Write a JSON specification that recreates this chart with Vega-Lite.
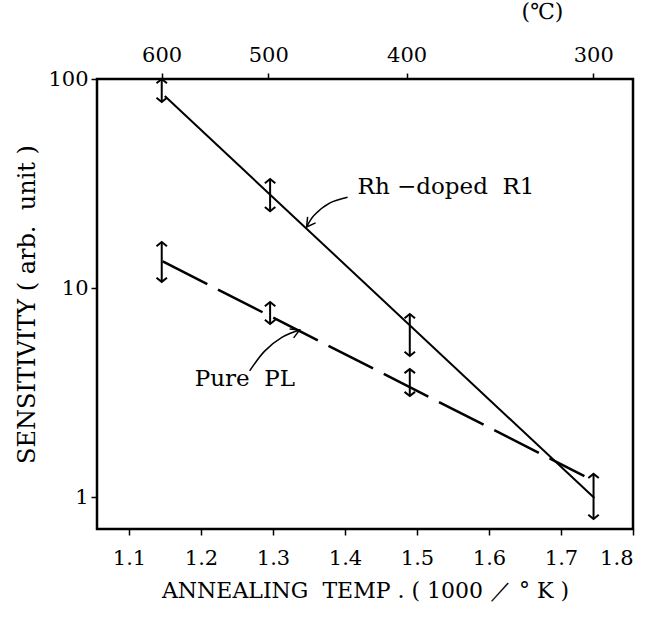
{
  "$schema": "https://vega.github.io/schema/vega-lite/v6.json",
  "width": 536,
  "height": 450,
  "autosize": {"type": "none"},
  "padding": {"left": 97, "top": 79, "right": 19, "bottom": 89},
  "background": "white",
  "config": {
    "view": {"stroke": "black", "strokeWidth": 2.5},
    "font": "DejaVu Serif",
    "axis": {
      "domain": false, "grid": false, "tickColor": "black", "labelColor": "black", "titleColor": "black",
      "labelFont": "DejaVu Serif", "titleFont": "DejaVu Serif", "labelFontSize": 21, "titleFontSize": 22,
      "titleFontWeight": "normal", "tickSize": 6, "tickWidth": 1.5
    }
  },
  "datasets": {
    "lines": [
      {"s": "Rh", "x": 1.1497, "y": 82.9},
      {"s": "Rh", "x": 1.7464, "y": 0.989},
      {"s": "Pure", "x": 1.1469, "y": 13.4},
      {"s": "Pure", "x": 1.7325, "y": 1.26}
    ],
    "topticks": [{"x": 1.1453, "y": 10}, {"x": 1.2934, "y": 10}, {"x": 1.4856, "y": 10}, {"x": 1.7448, "y": 10}],
    "bars": [
      {"s": "Rh", "x": 1.1455, "lo": 77.6, "hi": 100},
      {"s": "Rh", "x": 1.296, "lo": 23.3, "hi": 33.2},
      {"s": "Rh", "x": 1.49, "lo": 4.73, "hi": 7.51},
      {"s": "Rh", "x": 1.7452, "lo": 0.785, "hi": 1.29},
      {"s": "Pure", "x": 1.1455, "lo": 10.7, "hi": 16.6},
      {"s": "Pure", "x": 1.296, "lo": 6.73, "hi": 8.57},
      {"s": "Pure", "x": 1.49, "lo": 3.04, "hi": 4.1}
    ],
    "curves": [
      {"a": "rh", "o": 1, "x": 1.4036, "y": 27.2},
      {"a": "rh", "o": 2, "x": 1.3786, "y": 25.5},
      {"a": "rh", "o": 3, "x": 1.3578, "y": 22.4},
      {"a": "rh", "o": 4, "x": 1.3467, "y": 19.6},
      {"a": "pure", "o": 1, "x": 1.2676, "y": 4.01},
      {"a": "pure", "o": 2, "x": 1.2884, "y": 4.99},
      {"a": "pure", "o": 3, "x": 1.3134, "y": 5.83},
      {"a": "pure", "o": 4, "x": 1.337, "y": 6.3}
    ],
    "wings": [
      {"a": "rh", "o": 1, "x": 1.3592, "y": 20.5},
      {"a": "rh", "o": 2, "x": 1.3467, "y": 19.6},
      {"a": "rh", "o": 3, "x": 1.3481, "y": 21.9},
      {"a": "pure", "o": 1, "x": 1.3231, "y": 6.37},
      {"a": "pure", "o": 2, "x": 1.337, "y": 6.3},
      {"a": "pure", "o": 3, "x": 1.3287, "y": 5.77}
    ],
    "labels": [
      {"t": "Rh\u00a0−doped\u00a0\u00a0R1", "x": 1.4175, "y": 30.4},
      {"t": "Pure\u00a0\u00a0PL", "x": 1.1913, "y": 3.67}
    ]
  },
  "layer": [
    {
      "data": {"name": "lines"},
      "transform": [{"filter": "datum.s === 'Rh'"}],
      "mark": {"type": "line", "stroke": "black", "strokeWidth": 2},
      "encoding": {
        "x": {"field": "x", "type": "quantitative",
          "scale": {"domain": [1.0556, 1.8], "nice": false, "zero": false},
          "axis": {"orient": "bottom", "values": [1.1, 1.2, 1.3, 1.4, 1.5, 1.6, 1.7, 1.8], "format": ".1f",
            "labelPadding": 12, "title": "ANNEALING\u00a0\u00a0TEMP\u00a0.\u00a0(\u00a01000\u00a0／\u00a0°\u00a0K\u00a0)", "titlePadding": 12}},
        "y": {"field": "y", "type": "quantitative",
          "scale": {"type": "log", "domain": [0.703, 100], "nice": false},
          "axis": {"orient": "left", "values": [1, 10, 100], "format": "~g", "labelPadding": 3,
            "title": "SENSITIVITY\u00a0(\u00a0arb.\u00a0\u00a0unit\u00a0)", "titleFontSize": 24, "titlePadding": 8}}
      }
    },
    {
      "data": {"name": "topticks"},
      "mark": {"type": "point", "opacity": 0},
      "encoding": {
        "x": {"field": "x", "type": "quantitative",
          "scale": {"domain": [1.0556, 1.8], "nice": false, "zero": false},
          "axis": {"orient": "top", "values": [1.1453, 1.2934, 1.4856, 1.7448],
            "labelExpr": "datum.value < 1.2 ? '600' : datum.value < 1.4 ? '500' : datum.value < 1.6 ? '400' : '300'",
            "labelPadding": 8, "title": "(℃)", "titleX": 445, "titleY": -56, "titleAlign": "center"}},
        "y": {"field": "y", "type": "quantitative", "scale": {"type": "log", "domain": [0.703, 100], "nice": false}, "axis": null}
      }
    },
    {
      "data": {"name": "lines"},
      "transform": [{"filter": "datum.s === 'Pure'"}],
      "mark": {"type": "line", "stroke": "black", "strokeWidth": 2.5, "strokeDash": [50, 12]},
      "encoding": {
        "x": {"field": "x", "type": "quantitative", "scale": {"domain": [1.0556, 1.8], "nice": false, "zero": false}, "axis": null},
        "y": {"field": "y", "type": "quantitative", "scale": {"type": "log", "domain": [0.703, 100], "nice": false}, "axis": null}
      }
    },
    {
      "data": {"name": "bars"},
      "mark": {"type": "rule", "stroke": "black", "strokeWidth": 2},
      "encoding": {
        "x": {"field": "x", "type": "quantitative", "scale": {"domain": [1.0556, 1.8], "nice": false, "zero": false}, "axis": null},
        "y": {"field": "lo", "type": "quantitative", "scale": {"type": "log", "domain": [0.703, 100], "nice": false}, "axis": null},
        "y2": {"field": "hi"}
      }
    },
    {
      "data": {"name": "bars"},
      "transform": [{"fold": ["lo", "hi"], "as": ["end", "v"]}],
      "mark": {"type": "point", "filled": false, "stroke": "black", "strokeWidth": 2, "size": 110, "opacity": 1},
      "encoding": {
        "x": {"field": "x", "type": "quantitative", "scale": {"domain": [1.0556, 1.8], "nice": false, "zero": false}, "axis": null},
        "y": {"field": "v", "type": "quantitative", "scale": {"type": "log", "domain": [0.703, 100], "nice": false}, "axis": null},
        "shape": {"field": "end", "type": "nominal", "legend": null,
          "scale": {"domain": ["hi", "lo"], "range": ["M-1,0.8L0,0L1,0.8", "M-1,-0.8L0,0L1,-0.8"]}}
      }
    },
    {
      "data": {"name": "curves"},
      "mark": {"type": "line", "stroke": "black", "strokeWidth": 1.5, "interpolate": "cardinal"},
      "encoding": {
        "x": {"field": "x", "type": "quantitative", "scale": {"domain": [1.0556, 1.8], "nice": false, "zero": false}, "axis": null},
        "y": {"field": "y", "type": "quantitative", "scale": {"type": "log", "domain": [0.703, 100], "nice": false}, "axis": null},
        "detail": {"field": "a"},
        "order": {"field": "o", "type": "quantitative"}
      }
    },
    {
      "data": {"name": "wings"},
      "mark": {"type": "line", "stroke": "black", "strokeWidth": 1.5},
      "encoding": {
        "x": {"field": "x", "type": "quantitative", "scale": {"domain": [1.0556, 1.8], "nice": false, "zero": false}, "axis": null},
        "y": {"field": "y", "type": "quantitative", "scale": {"type": "log", "domain": [0.703, 100], "nice": false}, "axis": null},
        "detail": {"field": "a"},
        "order": {"field": "o", "type": "quantitative"}
      }
    },
    {
      "data": {"name": "labels"},
      "mark": {"type": "text", "align": "left", "baseline": "middle", "fontSize": 23, "font": "DejaVu Serif", "color": "black"},
      "encoding": {
        "x": {"field": "x", "type": "quantitative", "scale": {"domain": [1.0556, 1.8], "nice": false, "zero": false}, "axis": null},
        "y": {"field": "y", "type": "quantitative", "scale": {"type": "log", "domain": [0.703, 100], "nice": false}, "axis": null},
        "text": {"field": "t"}
      }
    }
  ],
  "resolve": {"axis": {"x": "independent", "y": "independent"}}
}
